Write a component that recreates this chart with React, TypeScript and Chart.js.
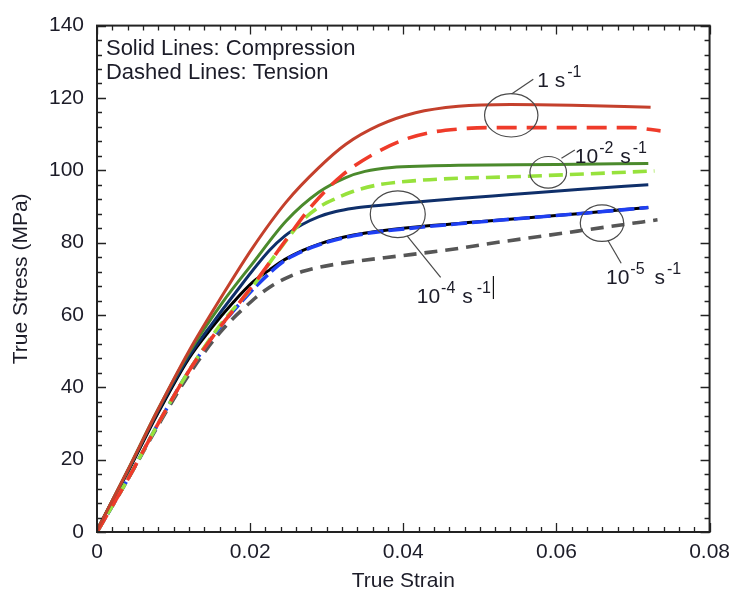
import React, { useEffect, useRef } from "react";
import { Chart, registerables } from "chart.js";

Chart.register(...registerables);

// ---------- axis ticks ----------
const X_TICK_LABELS = ["0", "0.02", "0.04", "0.06", "0.08"];
const Y_TICK_LABELS = ["0", "20", "40", "60", "80", "100", "120", "140"];

// ---------- series (true strain / true stress, MPa) ----------
// 1 s^-1 compression (solid)
const STRAIN_1_C = [0, 0.004, 0.008, 0.012, 0.0164, 0.0203, 0.0247, 0.029, 0.0325, 0.0368, 0.0416, 0.0472, 0.054, 0.062, 0.0723];
const STRESS_1_C = [0.5, 17, 34, 50, 65.5, 78.5, 91.2, 100.8, 107.2, 112.4, 115.9, 117.7, 118.2, 118, 117.4];
// 1 s^-1 tension (dashed)
const STRAIN_1_T = [0, 0.004, 0.008, 0.012, 0.016, 0.019, 0.0212, 0.0247, 0.0281, 0.032, 0.0364, 0.0403, 0.0437, 0.0472, 0.0511, 0.0698, 0.0736];
const STRESS_1_T = [0, 14.5, 30, 44.5, 56.5, 64.5, 70.6, 80.8, 90.3, 98.6, 104.8, 108.6, 110.5, 111.4, 111.8, 111.8, 110.9];
// 1e-2 s^-1 compression (solid)
const STRAIN_2_C = [0, 0.004, 0.008, 0.012, 0.0164, 0.0203, 0.0247, 0.029, 0.0325, 0.035, 0.0385, 0.043, 0.0472, 0.06, 0.072];
const STRESS_2_C = [0.5, 17, 34, 49.5, 63.5, 74.2, 86, 94, 98, 99.7, 100.8, 101.2, 101.4, 101.6, 101.9];
// 1e-2 s^-1 tension (dashed)
const STRAIN_2_T = [0, 0.004, 0.008, 0.012, 0.016, 0.0203, 0.0234, 0.0268, 0.029, 0.0312, 0.0335, 0.0368, 0.042, 0.0472, 0.0541, 0.0728];
const STRESS_2_T = [0, 14.5, 30, 44.5, 57, 67.8, 76.9, 86, 89.8, 92.2, 94.2, 96, 97.2, 97.8, 98.2, 99.8];
// 1e-4 s^-1 compression (solid)
const STRAIN_4_C = [0, 0.004, 0.008, 0.012, 0.015, 0.0177, 0.0225, 0.0245, 0.0268, 0.029, 0.0312, 0.0335, 0.0359, 0.0472, 0.0541, 0.0628, 0.072];
const STRESS_4_C = [0.5, 16.8, 33.5, 48.5, 57.5, 65.1, 77.8, 81.8, 85, 87.2, 88.6, 89.5, 90.1, 92.2, 93.3, 94.7, 96];
// 1e-4 s^-1 tension (dashed)
const STRAIN_4_T = [0, 0.004, 0.008, 0.012, 0.016, 0.0195, 0.0225, 0.0245, 0.0268, 0.029, 0.0312, 0.0335, 0.0364, 0.042, 0.0472, 0.0498, 0.0628, 0.072];
const STRESS_4_T = [0, 14.5, 30, 44.5, 56.5, 65.1, 71.5, 75, 77.6, 79.4, 80.8, 81.9, 82.9, 84.2, 85.2, 85.7, 88, 89.7];
// 1e-5 s^-1 compression (solid)
const STRAIN_5_C = [0, 0.004, 0.008, 0.012, 0.015, 0.0178, 0.0203, 0.0225, 0.0245, 0.0268, 0.029, 0.0312, 0.0335, 0.0364, 0.042, 0.0472, 0.0498, 0.0628, 0.072];
const STRESS_5_C = [0.5, 16.5, 33, 48, 56.5, 63.5, 69, 72.4, 75.3, 77.8, 79.6, 81, 82.1, 83.1, 84.4, 85.3, 85.8, 88, 89.7];
// 1e-5 s^-1 tension (dashed)
const STRAIN_5_T = [0, 0.004, 0.008, 0.012, 0.016, 0.0203, 0.0225, 0.0247, 0.0268, 0.029, 0.0333, 0.0394, 0.0433, 0.0472, 0.0511, 0.0585, 0.0671, 0.0732];
const STRESS_5_T = [0, 14.5, 29.5, 43.5, 55, 64, 67.6, 70.2, 72, 73.2, 74.7, 76.3, 77.3, 78.4, 79.7, 81.9, 84.5, 86.3];

// ---------- text ----------
const NOTE_LINES = ["Solid Lines: Compression", "Dashed Lines: Tension"];
const NOTE_POS = [
  { x: 0.00117, y: 131.8 },
  { x: 0.00117, y: 125.3 },
];

type Part = { t: string; sup?: boolean; gap?: number };
const CALLOUTS: {
  cx: number; cy: number; rx: number; ry: number;
  from: [number, number]; to: [number, number];
  tx: number; ty: number; parts: Part[]; cursor?: boolean;
}[] = [
  { cx: 0.0541, cy: 115.2, rx: 26.7, ry: 21.7, from: [0.05414, 121.1], to: [0.05698, 125.2], tx: 0.0575, ty: 123.1,
    parts: [{ t: "1 s" }, { t: "-1", sup: true, gap: 2 }] },
  { cx: 0.05893, cy: 99.45, rx: 18.3, ry: 15.8, from: [0.06066, 103.3], to: [0.0624, 105.6], tx: 0.0624, ty: 102.1,
    parts: [{ t: "10" }, { t: "-2", sup: true, gap: 1 }, { t: " s", gap: 1 }, { t: "-1", sup: true, gap: 2 }] },
  { cx: 0.03928, cy: 87.85, rx: 27.5, ry: 23.3, from: [0.0405, 81.9], to: [0.04488, 70.4], tx: 0.04176, ty: 63.3,
    parts: [{ t: "10" }, { t: "-4", sup: true, gap: 1 }, { t: " s", gap: 1 }, { t: "-1", sup: true, gap: 4 }], cursor: true },
  { cx: 0.06595, cy: 85.4, rx: 21.7, ry: 18.3, from: [0.06673, 80.6], to: [0.06846, 74.3], tx: 0.06647, ty: 68.7,
    parts: [{ t: "10" }, { t: "-5", sup: true, gap: 1 }, { t: " s", gap: 4 }, { t: "-1", sup: true, gap: 2 }] },
];

const FONT = "'Liberation Sans', Arial, sans-serif";
const TEXT_COLOR = "#1c1c28";

function pts(xs: number[], ys: number[]) {
  return xs.map((x, i) => ({ x, y: ys[i] }));
}

const decorPlugin = {
  id: "decor",
  afterDatasetsDraw(chart: any) {
    const { ctx, chartArea: a, scales } = chart;
    const xs = scales.x;
    const ys = scales.y;
    ctx.save();
    // inward ticks on all four sides
    ctx.strokeStyle = "#222";
    ctx.lineWidth = 1.3;
    ctx.beginPath();
    for (let i = 0; i <= 40; i++) {
      const px = Math.round(xs.getPixelForValue(i * 0.002)) + 0.5;
      const len = i % 10 === 0 ? 9 : 5;
      ctx.moveTo(px, a.bottom);
      ctx.lineTo(px, a.bottom - len);
      ctx.moveTo(px, a.top);
      ctx.lineTo(px, a.top + len);
    }
    for (let i = 0; i <= 35; i++) {
      const py = Math.round(ys.getPixelForValue(i * 4)) + 0.5;
      const len = i % 5 === 0 ? 9 : 5;
      ctx.moveTo(a.left, py);
      ctx.lineTo(a.left + len, py);
      ctx.moveTo(a.right, py);
      ctx.lineTo(a.right - len, py);
    }
    ctx.stroke();
    // frame
    ctx.lineWidth = 2;
    ctx.strokeRect(a.left, a.top, a.right - a.left, a.bottom - a.top);

    // notes
    ctx.fillStyle = TEXT_COLOR;
    ctx.textBaseline = "alphabetic";
    ctx.textAlign = "left";
    ctx.font = `22px ${FONT}`;
    NOTE_LINES.forEach((t, i) => {
      ctx.fillText(t, xs.getPixelForValue(NOTE_POS[i].x), ys.getPixelForValue(NOTE_POS[i].y));
    });

    // callouts
    CALLOUTS.forEach((c) => {
      ctx.strokeStyle = "#4a4a4a";
      ctx.lineWidth = 1.2;
      ctx.beginPath();
      ctx.ellipse(xs.getPixelForValue(c.cx), ys.getPixelForValue(c.cy), c.rx, c.ry, 0, 0, Math.PI * 2);
      ctx.stroke();
      ctx.beginPath();
      ctx.moveTo(xs.getPixelForValue(c.from[0]), ys.getPixelForValue(c.from[1]));
      ctx.lineTo(xs.getPixelForValue(c.to[0]), ys.getPixelForValue(c.to[1]));
      ctx.stroke();
      let x = xs.getPixelForValue(c.tx);
      const base = ys.getPixelForValue(c.ty);
      c.parts.forEach((p) => {
        x += p.gap || 0;
        ctx.font = p.sup ? `16px ${FONT}` : `21px ${FONT}`;
        ctx.fillText(p.t, x, p.sup ? base - 10 : base);
        x += ctx.measureText(p.t).width;
      });
      if (c.cursor) {
        ctx.strokeStyle = "#111";
        ctx.lineWidth = 1.2;
        ctx.beginPath();
        ctx.moveTo(x + 2.5, base - 27);
        ctx.lineTo(x + 2.5, base - 4);
        ctx.stroke();
      }
    });
    ctx.restore();
  },
};

export default function App() {
  const ref = useRef<HTMLCanvasElement | null>(null);
  useEffect(() => {
    if (!ref.current) return;
    const solid = (label: string, color: string, xs: number[], ys: number[]) => ({
      label, data: pts(xs, ys), borderColor: color, borderWidth: 3, borderDash: [] as number[],
    });
    const dashed = (label: string, color: string, dash: number[], xs: number[], ys: number[]) => ({
      label, data: pts(xs, ys), borderColor: color, borderWidth: 3.6, borderDash: dash,
    });
    const chart = new Chart(ref.current, {
      type: "line",
      data: {
        datasets: [
          solid("1 s-1 compression", "#c4402c", STRAIN_1_C, STRESS_1_C),
          dashed("1 s-1 tension", "#ef3b2a", [20, 10], STRAIN_1_T, STRESS_1_T),
          solid("1e-2 s-1 compression", "#4b8a2c", STRAIN_2_C, STRESS_2_C),
          dashed("1e-2 s-1 tension", "#97e23c", [14, 7], STRAIN_2_T, STRESS_2_T),
          solid("1e-4 s-1 compression", "#0f2f6a", STRAIN_4_C, STRESS_4_C),
          dashed("1e-4 s-1 tension", "#1f3ff2", [16, 5], STRAIN_4_T, STRESS_4_T),
          solid("1e-5 s-1 compression", "#000000", STRAIN_5_C, STRESS_5_C),
          dashed("1e-5 s-1 tension", "#565656", [13, 8], STRAIN_5_T, STRESS_5_T),
        ].map((d) => ({
          ...d,
          pointRadius: 0,
          fill: false,
          cubicInterpolationMode: "monotone" as const,
        })),
      },
      options: {
        responsive: false,
        animation: false,
        devicePixelRatio: 1,
        layout: { padding: { top: 19, right: 26, left: 0, bottom: 0 } },
        plugins: { legend: { display: false }, tooltip: { enabled: false } },
        scales: {
          x: {
            type: "linear",
            min: 0,
            max: 0.08,
            grid: { display: false, drawTicks: false },
            border: { display: false },
            ticks: {
              stepSize: 0.02,
              padding: 8,
              color: TEXT_COLOR,
              font: { family: FONT, size: 21 },
              maxRotation: 0,
              callback: (_v: any, i: number) => X_TICK_LABELS[i],
            },
            title: {
              display: true,
              text: "True Strain",
              color: TEXT_COLOR,
              font: { family: FONT, size: 21 },
              padding: { top: 0, bottom: 1 },
            },
            afterFit: (s: any) => { s.height = 63; },
          },
          y: {
            type: "linear",
            min: 0,
            max: 140,
            grid: { display: false, drawTicks: false },
            border: { display: false },
            ticks: {
              stepSize: 20,
              padding: 13,
              color: TEXT_COLOR,
              font: { family: FONT, size: 21 },
              callback: (_v: any, i: number) => Y_TICK_LABELS[i],
            },
            title: {
              display: true,
              text: "True Stress (MPa)",
              color: TEXT_COLOR,
              font: { family: FONT, size: 21 },
              padding: { top: 9, bottom: 0 },
            },
            afterFit: (s: any) => { s.width = 97; },
          },
        },
      },
      plugins: [decorPlugin],
    });
    return () => chart.destroy();
  }, []);
  return (
    <div style={{ position: "absolute", left: 0, top: 0, width: 738, height: 595, background: "#fff" }}>
      <canvas ref={ref} width={738} height={595} style={{ display: "block" }} />
    </div>
  );
}
